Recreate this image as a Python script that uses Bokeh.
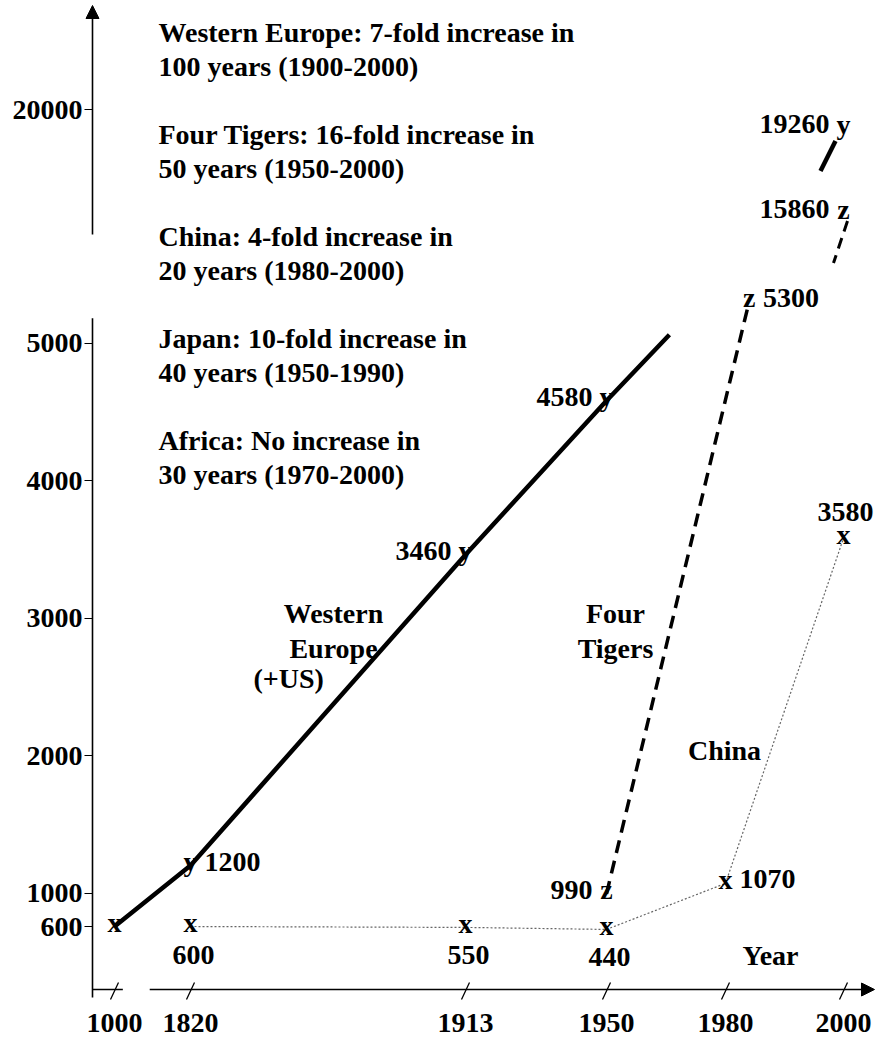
import numpy as np
from bokeh.plotting import figure
from bokeh.models import ColumnDataSource, Range1d, LinearAxis, FixedTicker, Arrow, NormalHead
from bokeh.core.properties import value
from bokeh.embed import file_html
from bokeh.resources import INLINE

# ------------------------------------------------------------------ data
TICK_YEARS = [1000, 1820, 1913, 1950, 1980, 2000]
TICK_LABELS = ["1000", "1820", "1913", "1950", "1980", "2000"]
Y_TICKS = [600, 1000, 2000, 3000, 4000, 5000, 20000]

WE_YEARS = [1000, 1820, 1913, 1950, 2000]          # Western Europe (+US)  -> marker "y"
WE_GDP = [600, 1200, 3460, 4580, 19260]

TIGER_YEARS = [1950, 1984, 2000]                   # Four Tigers           -> marker "z"
TIGER_GDP = [990, 5300, 15860]

CHINA_YEARS = [1000, 1820, 1913, 1950, 1980, 2000]  # China                -> marker "x"
CHINA_GDP = [600, 600, 550, 440, 1070, 3580]

NOTES = [
    ("Western Europe: 7-fold increase in", "100 years (1900-2000)"),
    ("Four Tigers: 16-fold increase in", "50 years (1950-2000)"),
    ("China: 4-fold increase in", "20 years (1980-2000)"),
    ("Japan: 10-fold increase in", "40 years (1950-1990)"),
    ("Africa: No increase in", "30 years (1970-2000)"),
]

# label placement for each point (style); None = no marker / no label
WE_SIDES = [None, "right", "left", "left", "left"]
TIGER_SIDES = ["left", "right", "left"]
CHINA_SIDES = ["none", "below", "below", "below", "right", "above"]

# ------------------------------------------------------------------ schematic scales
# frame in page pixels: data units == pixels of the picture
W, H = 875, 1041
X_SLOTS = [114, 190, 465, 606, 725, 843]   # positions of the (non-uniform) year slots
AXIS_X = 92          # y axis position
AXIS_Y = 989         # x axis position
BREAK = 10000        # values above are drawn on the upper (compressed) part
AXIS_LOW_TOP = 5180
AXIS_UP_BOTTOM = 15000
WE_STUB_TOP = 5060
X_BREAK = (1090, 1380)
TDY = -10            # baseline correction for text glyphs


def xmap(years):
    return np.interp(np.asarray(years, float), TICK_YEARS, X_SLOTS)


def ymap(vals):
    v = np.asarray(vals, float)
    low = np.interp(v, [0, 600, 1000], [937.0, 926.0, 892.5])
    mid = 892.5 - (v - 1000.0) * 0.1375
    up = 109.0 + (20000.0 - v) * 0.025
    return np.where(v < 1000, low, np.where(v < BREAK, mid, up))


FONT = value("Liberation Serif")
FS = "28px"

p = figure(width=W, height=H, output_backend="svg", toolbar_location=None,
           x_axis_type=None, y_axis_type=None,
           x_range=Range1d(0, W), y_range=Range1d(H, 0),
           min_border=0, min_border_left=0, min_border_right=0,
           min_border_top=0, min_border_bottom=0)
p.outline_line_color = None
p.background_fill_color = "white"
p.border_fill_color = "white"

# ------------------------------------------------------------------ axes
ytick_pos = [round(float(t), 2) for t in ymap(Y_TICKS)]
yax = LinearAxis(fixed_location=AXIS_X, ticker=FixedTicker(ticks=ytick_pos),
                 major_label_overrides={k: str(v) for k, v in zip(ytick_pos, Y_TICKS)})
yax.axis_line_color = None
yax.major_tick_out = 8
yax.major_tick_in = 0
yax.major_tick_line_width = 1
yax.major_tick_line_color = "black"
yax.minor_tick_line_color = None
yax.major_label_standoff = 2
yax.major_label_text_font = "Liberation Serif"
yax.major_label_text_font_style = "bold"
yax.major_label_text_font_size = FS
yax.major_label_text_color = "black"
p.add_layout(yax, "left")

xtick_pos = [round(float(t), 2) for t in xmap(TICK_YEARS)]
xax = LinearAxis(fixed_location=AXIS_Y, ticker=FixedTicker(ticks=xtick_pos),
                 major_label_overrides={k: s for k, s in zip(xtick_pos, TICK_LABELS)})
xax.axis_line_color = None
xax.major_tick_line_color = None
xax.major_tick_out = 0
xax.major_tick_in = 0
xax.minor_tick_line_color = None
xax.major_label_standoff = 24
xax.major_label_text_font = "Liberation Serif"
xax.major_label_text_font_style = "bold"
xax.major_label_text_font_size = FS
xax.major_label_text_color = "black"
p.add_layout(xax, "below")

# broken axis lines
ylow_top = float(ymap([AXIS_LOW_TOP])[0])
yup_bottom = float(ymap([AXIS_UP_BOTTOM])[0])
p.segment(x0=[AXIS_X], y0=[AXIS_Y + 8], x1=[AXIS_X], y1=[ylow_top], line_color="black", line_width=1.6)
p.add_layout(Arrow(end=NormalHead(size=13, fill_color="black", line_color="black", line_width=1),
                   x_start=AXIS_X, y_start=yup_bottom, x_end=AXIS_X, y_end=5,
                   line_color="black", line_width=1.6))
xb0, xb1 = xmap(X_BREAK)
p.segment(x0=[AXIS_X], y0=[AXIS_Y], x1=[float(xb0)], y1=[AXIS_Y], line_color="black", line_width=1.6)
p.add_layout(Arrow(end=NormalHead(size=13, fill_color="black", line_color="black", line_width=1),
                   x_start=float(xb1), y_start=AXIS_Y, x_end=W - 1, y_end=AXIS_Y,
                   line_color="black", line_width=1.6))
# slash ticks on the year axis
xt = np.array(xtick_pos)
p.segment(x0=xt - 4, y0=np.full(len(xt), AXIS_Y + 10), x1=xt + 4, y1=np.full(len(xt), AXIS_Y - 7),
          line_color="black", line_width=1.3)

# ------------------------------------------------------------------ series lines
# Western Europe: solid, lower part + continuation towards the break
we_low = [(y, v) for y, v in zip(WE_YEARS, WE_GDP) if v < BREAK]
(y1, v1), (y2, v2) = we_low[-2], we_low[-1]
stub_year = y2 + (WE_STUB_TOP - v2) / ((v2 - v1) / (y2 - y1))
we_x = list(xmap([a for a, _ in we_low] + [stub_year]))
we_y = list(ymap([b for _, b in we_low] + [WE_STUB_TOP]))
p.line(we_x, we_y, line_color="black", line_width=4.5)

# upper break stubs (style: short pieces below the last point)
we_top_x, we_top_y = float(xmap([WE_YEARS[-1]])[0]), float(ymap([WE_GDP[-1]])[0])
p.line([we_top_x - 8, we_top_x - 23], [we_top_y + 13, we_top_y + 43], line_color="black", line_width=4.5)

tg_low = [(y, v) for y, v in zip(TIGER_YEARS, TIGER_GDP) if v < BREAK]
p.line(list(xmap([a for a, _ in tg_low])), list(ymap([b for _, b in tg_low])),
       line_color="black", line_width=3.5, line_dash="13 8")
tg_top_x, tg_top_y = float(xmap([TIGER_YEARS[-1]])[0]), float(ymap([TIGER_GDP[-1]])[0])
p.line([tg_top_x + 4, tg_top_x - 10], [tg_top_y + 8, tg_top_y + 50],
       line_color="black", line_width=3, line_dash="11 7")

# China: dotted
p.line(list(xmap(CHINA_YEARS[1:])), list(ymap(CHINA_GDP[1:])),
       line_color="#666666", line_width=1.2, line_dash="2 2")

# ------------------------------------------------------------------ markers and value labels
marks = {"x": [], "y": [], "t": []}
labs = {a: {"x": [], "y": [], "t": []} for a in ("left", "right", "center")}


def add_series(years, vals, sides, glyph):
    xs, ys = xmap(years), ymap(vals)
    for px, py, v, side in zip(xs, ys, vals, sides):
        if side is None:
            continue
        marks["x"].append(px); marks["y"].append(py + 6 + TDY); marks["t"].append(glyph)
        if side == "right":
            d = labs["left"]; d["x"].append(px + 14); d["y"].append(py + 6 + TDY)
        elif side == "left":
            d = labs["right"]; d["x"].append(px - 14); d["y"].append(py + 6 + TDY)
        elif side == "below":
            d = labs["center"]; d["x"].append(px + 3); d["y"].append(py + 38 + TDY)
        elif side == "above":
            d = labs["center"]; d["x"].append(px + 2); d["y"].append(py - 16 + TDY)
        else:
            continue
        d["t"].append(str(v))


add_series(WE_YEARS, WE_GDP, WE_SIDES, "y")
add_series(TIGER_YEARS, TIGER_GDP, TIGER_SIDES, "z")
add_series(CHINA_YEARS, CHINA_GDP, CHINA_SIDES, "x")

txt = dict(text_font=FONT, text_font_style="bold", text_font_size=FS, text_color="black",
           text_baseline="alphabetic")
p.text(x="x", y="y", text="t", source=ColumnDataSource(marks), text_align="center", **txt)
for align, d in labs.items():
    p.text(x="x", y="y", text="t", source=ColumnDataSource(d), text_align=align, **txt)

# ------------------------------------------------------------------ annotations
note_x, note_y, note_t = [], [], []
for i, (l1, l2) in enumerate(NOTES):
    base = 42 + 102 * i + TDY
    note_x += [158, 158]
    note_y += [base, base + 34]
    note_t += [l1, l2]
p.text(x=note_x, y=note_y, text=note_t, text_align="left", **txt)

p.text(x=[333, 333, 615, 615, 724, 770], y=[v + TDY for v in [623, 658, 623, 658, 760, 965]],
       text=["Western", "Europe", "Four", "Tigers", "China", "Year"], text_align="center", **txt)
p.text(x=[253], y=[688 + TDY], text=["(+US)"], text_align="left", **txt)

open("out.html", "w").write(file_html(p, INLINE))
